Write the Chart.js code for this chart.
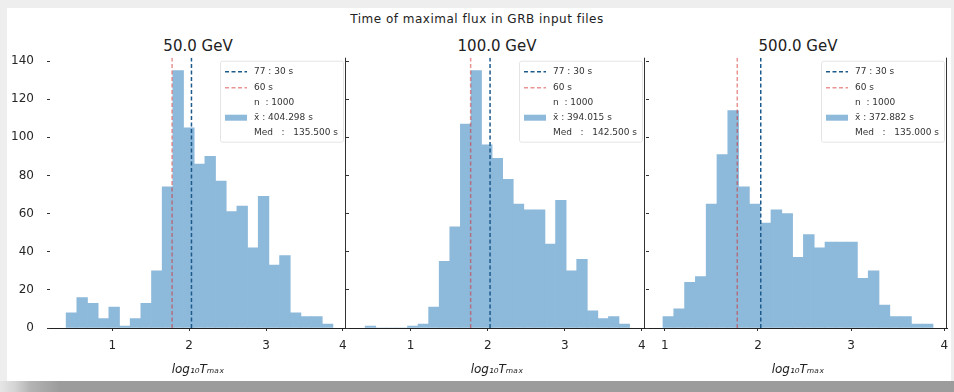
<!DOCTYPE html>
<html>
<head>
<meta charset="utf-8">
<script src="https://cdn.jsdelivr.net/npm/chart.js@4.4.0/dist/chart.umd.min.js"></script>
<style>
  body { margin: 0; width: 954px; height: 392px; background: #eeeeee; position: relative; overflow: hidden; font-family: "DejaVu Sans", sans-serif; }
  #sheet { position: absolute; left: 7px; top: 8px; width: 944px; height: 373px; background: #ffffff; }
  #strip { position: absolute; left: 0; top: 381px; width: 954px; height: 11px; background: linear-gradient(to right, #e6e6e6 0px, #d4d4d4 15px, #b4b4b4 30px, #9c9c9c 60px, #9c9c9c 100%); }
  #suptitle { position: absolute; left: 0; top: 12px; width: 954px; text-align: center; font-size: 12px; letter-spacing: 0.5px; color: #222; }
  .sub { position: absolute; top: 37px; width: 200px; text-align: center; font-size: 15px; color: #222; }
  canvas { position: absolute; }
</style>
</head>
<body>
<div id="sheet"></div>
<div id="strip"></div>
<div id="suptitle">Time of maximal flux in GRB input files</div>
<div class="sub" style="left:98px">50.0 GeV</div>
<div class="sub" style="left:397px">100.0 GeV</div>
<div class="sub" style="left:698px">500.0 GeV</div>
<canvas id="c50" width="350" height="345" style="left:0px;top:40px;width:350px;height:345px"></canvas>
<canvas id="c100" width="304" height="345" style="left:345px;top:40px;width:304px;height:345px"></canvas>
<canvas id="c500" width="309" height="345" style="left:645px;top:40px;width:309px;height:345px"></canvas>
<script>
// histogram counts, 25 bins per panel
const counts50  = [8, 16, 13, 5, 11, 1, 5, 13, 30, 74, 135, 105, 86, 90, 77, 61, 64, 42, 69, 33, 38, 8, 6, 6, 2];
const counts100 = [1, 0, 0, 0, 1, 2, 11, 35, 53, 107, 135, 96, 89, 78, 65, 62, 62, 44, 67, 30, 36, 9, 5, 6, 2];
const counts500 = [6, 10, 24, 27, 65, 91, 114, 74, 65, 55, 62, 60, 37, 49, 42, 45, 45, 45, 26, 30, 12, 6, 6, 2, 2];

// first and last bin edge (log10 T)
const binRange50  = [0.40, 3.87];
const binRange100 = [0.41, 3.84];
const binRange500 = [0.98, 3.88];

// x limits of each panel
const xLim50  = [0.19, 4.04];
const xLim100 = [0.20, 4.04];
const xLim500 = [0.83, 4.03];

const xTicks = [1, 2, 3, 4];
const yTicks = [0, 20, 40, 60, 80, 100, 120, 140];
const yTop = 141.75;

// dashed markers (log10 T)
const t90Line = [2.03, 2.03, 2.03];
const t60Line = [1.778, 1.778, 1.778];

// legend text
const lineLabels = ['77 : 30 s', '60 s'];
const nEvents = ['1000', '1000', '1000'];
const meanTimes = ['404.298', '394.015', '372.882'];
const medianTimes = ['135.500', '142.500', '135.000'];

Chart.defaults.font.family = "'DejaVu Sans', sans-serif";
Chart.defaults.color = '#262626';

// right spine + legend box drawn inside the plot
const frame = {
    id: 'frame',
    afterDraw(chart, args, opts) {
        const { ctx, chartArea } = chart;
        ctx.save();
        ctx.strokeStyle = '#333';
        ctx.lineWidth = 1;
        ctx.beginPath();
        ctx.moveTo(Math.round(chartArea.right) - 0.5, chartArea.top);
        ctx.lineTo(Math.round(chartArea.right) - 0.5, chartArea.bottom);
        ctx.stroke();

        const k = opts.k;
        const rows = [lineLabels[0], lineLabels[1], 'n  : ' + nEvents[k], 'x\u0304 : ' + meanTimes[k] + ' s', 'Med   :   ' + medianTimes[k] + ' s'];
        ctx.font = '9px "DejaVu Sans"';
        const textW = Math.max(...rows.map(r => ctx.measureText(r).width));
        const right = chartArea.right - 3;
        const textX = right - 5 - textW;
        const hR = textX - 7, hL = hR - 22;
        const top = chartArea.top + 3;
        const left = hL - 5;
        ctx.fillStyle = 'rgba(255,255,255,0.8)';
        ctx.strokeStyle = '#e4e4e4';
        ctx.beginPath();
        ctx.roundRect(left + 0.5, top + 0.5, right - left, 81, 2);
        ctx.fill();
        ctx.stroke();

        const ys = [11, 27, 42, 57, 72].map(v => top + v);
        ctx.lineWidth = 1.5;
        ctx.setLineDash([4, 2.5]);
        ctx.strokeStyle = '#1d5a8c';
        ctx.beginPath(); ctx.moveTo(hL, ys[0]); ctx.lineTo(hR, ys[0]); ctx.stroke();
        ctx.strokeStyle = 'rgba(214,39,40,0.5)';
        ctx.beginPath(); ctx.moveTo(hL, ys[1]); ctx.lineTo(hR, ys[1]); ctx.stroke();
        ctx.setLineDash([]);
        ctx.fillStyle = '#8db9da';
        ctx.fillRect(hL, ys[3] - 3, hR - hL, 6);

        ctx.fillStyle = '#333';
        ctx.textBaseline = 'middle';
        rows.forEach((r, i) => ctx.fillText(r, textX, ys[i]));
        ctx.restore();
    }
};

function histPanel(id, counts, range, xlim, k, showY, yWidth, padRight) {
    const step = (range[1] - range[0]) / counts.length;
    const bars = counts.map((c, i) => ({ x: range[0] + step * (i + 0.5), y: c }));
    const dash = { type: 'line', borderWidth: 1.5, borderDash: [4, 2.5], pointRadius: 0, fill: false };

    return new Chart(document.getElementById(id), {
        type: 'bar',
        data: {
            datasets: [
                { ...dash, data: [{ x: t90Line[k], y: 0 }, { x: t90Line[k], y: yTop }], borderColor: '#1d5a8c' },
                { ...dash, data: [{ x: t60Line[k], y: 0 }, { x: t60Line[k], y: yTop }], borderColor: 'rgba(214,39,40,0.5)' },
                { data: bars, backgroundColor: '#8db9da', borderWidth: 0, barPercentage: 1, categoryPercentage: 1 }
            ]
        },
        options: {
            responsive: false,
            animation: false,
            layout: { padding: { left: 0, right: padRight, top: 17.7, bottom: 0 } },
            plugins: { legend: { display: false }, tooltip: { enabled: false }, frame: { k: k } },
            scales: {
                x: {
                    type: 'linear',
                    min: xlim[0],
                    max: xlim[1],
                    offset: false,
                    grid: { display: true, drawOnChartArea: false, drawTicks: true, tickLength: 3, color: '#333', offset: false },
                    border: { display: true, color: '#222', width: 1 },
                    ticks: { font: { size: 12 }, padding: 8, includeBounds: false, maxRotation: 0 },
                    afterBuildTicks: s => { s.ticks = xTicks.map(v => ({ value: v })); },
                    afterFit: s => { s.height = 57; s.paddingLeft = 0; s.paddingRight = 0; },
                    title: { display: true, text: 'log\u2081\u2080T\u2098\u2090\u2093', font: { size: 12, style: 'italic' }, color: '#222', padding: { top: 0, bottom: 8 } }
                },
                y: {
                    min: 0,
                    max: yTop,
                    grid: { display: true, drawOnChartArea: false, drawTicks: true, tickLength: 3, color: '#333' },
                    border: { display: false },
                    ticks: { font: { size: 12 }, padding: 13, includeBounds: false, callback: v => showY ? v : '' },
                    afterBuildTicks: s => { s.ticks = yTicks.map(v => ({ value: v })); },
                    afterFit: s => { s.width = yWidth; s.paddingTop = 0; s.paddingBottom = 0; }
                }
            }
        },
        plugins: [frame]
    });
}

histPanel('c50', counts50, binRange50, xLim50, 0, true, 50, 4);
histPanel('c100', counts100, binRange100, xLim100, 1, false, 4, 4);
histPanel('c500', counts500, binRange500, xLim500, 2, false, 4, 7);
</script>
</body>
</html>
